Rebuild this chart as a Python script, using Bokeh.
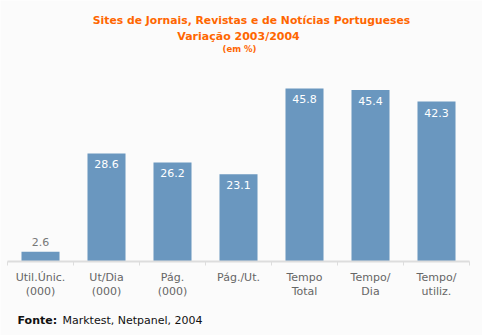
from bokeh.plotting import figure
from bokeh.models import ColumnDataSource, Range1d
from bokeh.core.properties import value
from bokeh.embed import file_html
from bokeh.resources import INLINE

categories = ["Util.Únic.\n(000)", "Ut/Dia\n(000)", "Pág.\n(000)", "Pág./Ut.", "Tempo\nTotal", "Tempo/\nDia", "Tempo/\nutiliz."]
values = [2.6, 28.6, 26.2, 23.1, 45.8, 45.4, 42.3]
value_labels = ["2.6", "28.6", "26.2", "23.1", "45.8", "45.4", "42.3"]
title_lines = ["Sites de Jornais, Revistas e de Notícias Portugueses", "Variação 2003/2004", "(em %)"]
source_bold = "Fonte:"
source_text = "Marktest, Netpanel, 2004"

FONT = "DejaVu Sans"
BG = "#fbfbfb"
W, H = 482, 335
n = len(categories)
xs = [i + 0.5 for i in range(n)]

# whole canvas is the frame; 1 category slot = 66 px, 1 value unit = 3.78 px
SLOT = 66.0
UNIT = 3.78
LEFT = 7
BASE = 261
x_rng = Range1d(-LEFT / SLOT, (W - LEFT) / SLOT)
y_rng = Range1d(-(H - BASE) / UNIT, BASE / UNIT)

p = figure(width=W, height=H, output_backend="svg", toolbar_location=None,
           x_range=x_rng, y_range=y_rng,
           min_border=0, background_fill_color=BG, border_fill_color=BG, outline_line_color=None,
           x_axis_location=None, y_axis_location=None)
p.grid.visible = False

def px_x(px):
    return -LEFT / SLOT + px / SLOT

def px_y(py):
    return (BASE - py) / UNIT

src = ColumnDataSource(dict(x=xs, top=values, lab=value_labels))
p.vbar(x="x", top="top", width=0.576, bottom=0, source=src, fill_color="#6a97bf", line_color=None)

# axis line and ticks at category boundaries
p.segment(x0=[0], y0=[0], x1=[n], y1=[0], line_color="#dddddd", line_width=2)
bounds = list(range(n + 1))
p.segment(x0=bounds, y0=[0] * len(bounds), x1=bounds, y1=[-4 / UNIT] * len(bounds),
          line_color="#dddddd", line_width=1)

inside = ColumnDataSource(dict(x=xs[1:], y=values[1:], lab=value_labels[1:]))
p.text(x="x", y="y", text="lab", source=inside, text_color="white", text_font=value(FONT),
       text_font_size="11px", text_align="center", text_baseline="middle", y_offset=11)
outside = ColumnDataSource(dict(x=xs[:1], y=values[:1], lab=value_labels[:1]))
p.text(x="x", y="y", text="lab", source=outside, text_color="#777777", text_font=value(FONT),
       text_font_size="11px", text_align="center", text_baseline="middle", y_offset=-10)

cats = ColumnDataSource(dict(x=xs, y=[0] * n, lab=categories))
p.text(x="x", y="y", text="lab", source=cats, text_color="#666666", text_font=value(FONT),
       text_font_size="11px", text_align="center", text_baseline="top", y_offset=9,
       text_line_height=1.12)

# titles
for txt, cx, cy, size in [(title_lines[0], 251, 20, "10.8px"),
                          (title_lines[1], 238, 36, "11px"),
                          (title_lines[2], 239, 48, "8.5px")]:
    p.text(x=[px_x(cx)], y=[px_y(cy)], text=[txt], text_font=value(FONT), text_font_size=size,
           text_font_style="bold", text_color="#ff6600", text_align="center", text_baseline="middle")

p.text(x=[px_x(17)], y=[px_y(320)], text=[source_bold], text_font=value(FONT), text_font_size="11px",
       text_font_style="bold", text_color="#111111", text_align="left", text_baseline="middle")
p.text(x=[px_x(62)], y=[px_y(320)], text=[source_text], text_font=value(FONT), text_font_size="11px",
       text_color="#111111", text_align="left", text_baseline="middle")

open("out.html", "w").write(file_html(p, INLINE))
